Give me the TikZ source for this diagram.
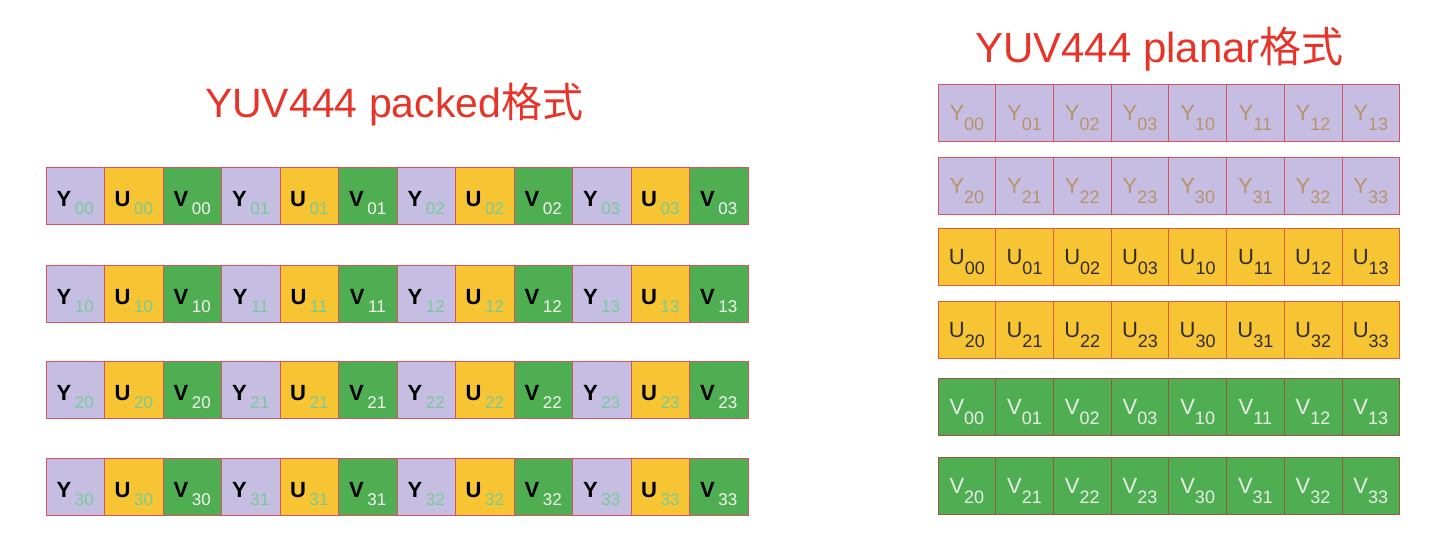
\documentclass[tikz,border=0pt]{standalone}
\usepackage{fontspec}
\setmainfont{Liberation Sans}
\newfontfamily\cjkfont{Noto Sans CJK SC}
\usetikzlibrary{positioning}

\begin{document}
\begin{tikzpicture}[x=1pt,y=-1pt]
\useasboundingbox (0,0) rectangle (1434,537);
\definecolor{yuvred}{RGB}{232,52,40}
\definecolor{cellY}{RGB}{198,190,226}
\definecolor{cellU}{RGB}{247,196,52}
\definecolor{cellV}{RGB}{80,174,82}
\definecolor{edgeY}{RGB}{214,84,96}
\definecolor{edgeU}{RGB}{222,92,60}
\definecolor{edgeV}{RGB}{150,88,62}
\definecolor{subY}{RGB}{118,204,150}
\definecolor{subU}{RGB}{118,204,150}
\definecolor{subV}{RGB}{240,248,240}
\definecolor{txtY}{RGB}{184,146,104}
\definecolor{txtU}{RGB}{48,44,40}
\definecolor{txtV}{RGB}{232,238,232}
\def\pkcell#1#2{{\bfseries #1}\,\raisebox{-8pt}{\fontsize{17pt}{17pt}\selectfont\color{sub#1}#2}}
\def\plcell#1#2{#1\raisebox{-10pt}{\fontsize{18pt}{18pt}\selectfont #2}}
\tikzset{
  title/.style={inner sep=0, outer sep=0, text=yuvred, anchor=base west, font=\fontsize{41pt}{41pt}\selectfont},
  pkcell/.style={draw=edgeY, line width=0.8pt, fill=cell#1, text=black, minimum width=58.5pt, minimum height=57.5pt,
    inner sep=0, outer sep=0, text height=22pt, text depth=0pt, font=\fontsize{22pt}{22pt}\selectfont},
  plcell/.style={draw=edge#1, line width=0.8pt, fill=cell#1, text=txt#1, minimum width=57.7pt, minimum height=57.5pt,
    inner sep=0, outer sep=0, text height=16pt, text depth=0pt, font=\fontsize{22pt}{22pt}\selectfont}
}
% titles
\node[title] (packedtitle) at (205,118) {YUV444 packed{\cjkfont 格式}};
\node[title, font=\fontsize{42pt}{42pt}\selectfont] (planartitle) at (975,63) {YUV444 planar{\cjkfont 格式}};
% packed: Y U V per pixel
\foreach \r/\t in {0/167,1/265,2/361,3/458}{
  \foreach \j in {0,...,3}{
    \node[pkcell=Y] (pkY-\r\j) at ({46+175.5*\j+29.25},{\t+28.75}) {\pkcell{Y}{\r\j}};
    \node[pkcell=U, right=0pt of pkY-\r\j] (pkU-\r\j) {\pkcell{U}{\r\j}};
    \node[pkcell=V, right=0pt of pkU-\r\j] (pkV-\r\j) {\pkcell{V}{\r\j}};
  }
}
% planar: one plane after the other
\foreach \comp/\p/\t in {Y/0/84,Y/1/157,U/0/228,U/1/301,V/0/378,V/1/457}{
  \foreach \c in {0,...,7}{
    \pgfmathtruncatemacro\i{2*\p+int(\c/4)}
    \pgfmathtruncatemacro\k{mod(\c,4)}
    \node[plcell=\comp] (pl\comp-\p\c) at ({938+57.7*\c+28.85},{\t+28.75}) {\plcell{\comp}{\i\k}};
  }
}
\end{tikzpicture}
\end{document}
